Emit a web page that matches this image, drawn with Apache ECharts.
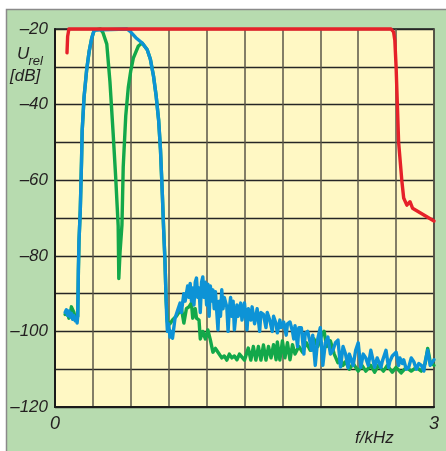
<!DOCTYPE html>
<html><head><meta charset="utf-8">
<script src="https://cdn.jsdelivr.net/npm/echarts@6/dist/echarts.min.js"></script>
<style>html,body{margin:0;padding:0;background:#fff}#c{width:446px;height:451px}</style>
</head><body><div id="c"></div>
<script>
// Frequency axis (kHz) and level axis (dB)
const xMin = 0, xMax = 3, xStep = 0.3;
const yMin = -120, yMax = -20, yStep = 10;
const xTickLabels = {0: '0', 3: '3'};
const yTickLabels = [-20, -40, -60, -80, -100, -120];

// Red curve: [f kHz, dB]
const redData = [[0.095,-26.3],[0.1,-22],[0.11,-20],[2.66,-20],[2.68,-20.8],[2.69,-23],[2.70,-30],[2.72,-50],[2.745,-60],[2.76,-64.7],[2.785,-66.6],[2.80,-66.8],[2.81,-65.7],[2.83,-67.4],[2.90,-68.8],[3.0,-70.8]];

// Blue curve
const blueData = [[0.08,-95],[0.09,-94.3],[0.10,-95.8],[0.11,-94.6],[0.12,-96.2],[0.13,-95.2],[0.14,-96.8],[0.15,-95.8],[0.16,-97.2],[0.17,-96.5],[0.175,-97.8],[0.18,-96],[0.185,-84],[0.19,-76],[0.20,-68],[0.21,-55],[0.215,-47],[0.23,-38],[0.25,-31],[0.27,-26],[0.29,-22.5],[0.31,-20.3],[0.32,-20],
[0.57,-20],[0.60,-20.8],[0.64,-22.3],[0.69,-23.7],[0.73,-25.5],[0.755,-28],[0.78,-32.5],[0.80,-37.5],[0.82,-44],[0.835,-52],[0.85,-64],[0.86,-73],[0.87,-81],[0.88,-92],[0.885,-97],[0.89,-100],[0.90,-98],[0.91,-101.5],[0.92,-100],[0.93,-101.8],[0.95,-96.5],[0.97,-94.5],[0.99,-92.5],[1.00,-95],[1.02,-90],[1.03,-92],[1.05,-88],[1.06,-91],[1.07,-87.3],[1.08,-92],[1.09,-88.5],[1.10,-93],[1.11,-87],[1.12,-85.9],[1.13,-91],[1.14,-88.5],[1.15,-95],[1.16,-87],[1.17,-85.6],[1.18,-91],[1.19,-87],[1.20,-93],[1.21,-87.5],[1.22,-96],[1.23,-88],[1.24,-92],[1.25,-89],[1.26,-94],[1.27,-89.5],[1.29,-99.6],[1.30,-92],[1.31,-96],[1.32,-89],[1.33,-94],[1.34,-91],[1.36,-93.5],[1.37,-100],[1.38,-94],[1.39,-91],[1.40,-96],[1.41,-92],[1.42,-99.6],[1.44,-93],[1.45,-96],[1.47,-92.5],[1.48,-97],[1.50,-92.5],[1.52,-99.6],[1.53,-94],[1.55,-97],[1.56,-93.5],[1.58,-98],[1.60,-94],[1.62,-100],[1.63,-95],[1.65,-95.5],[1.67,-99],[1.68,-95],[1.70,-97],[1.72,-100],[1.73,-96],[1.75,-98],[1.76,-100.4],[1.78,-97],[1.79,-99],[1.81,-97.5],[1.83,-101],[1.84,-98],[1.86,-97.5],[1.88,-100],[1.89,-102],[1.90,-98.5],[1.92,-104],[1.93,-99],[1.95,-99],[1.97,-106],[1.98,-100.5],[2.00,-100],[2.02,-103],[2.03,-105],[2.04,-101],[2.06,-109],[2.08,-102],[2.10,-99],[2.11,-104],[2.12,-109],[2.14,-103],[2.16,-101.5],[2.18,-106],[2.20,-105],[2.22,-103],[2.24,-102.3],[2.26,-109.4],[2.28,-104],[2.30,-106],[2.32,-109.6],[2.33,-106],[2.35,-108],[2.36,-109],[2.38,-105],[2.40,-103],[2.42,-109.5],[2.44,-106],[2.46,-107],[2.48,-109],[2.50,-105],[2.52,-108],[2.53,-109.5],[2.55,-107],[2.56,-106.5],[2.58,-109.5],[2.59,-108],[2.61,-106],[2.62,-105],[2.64,-109.5],[2.65,-108],[2.67,-106.5],[2.70,-105.5],[2.72,-109],[2.73,-107],[2.75,-108.5],[2.76,-107.5],[2.78,-110],[2.80,-109.5],[2.82,-107],[2.84,-108],[2.86,-110],[2.88,-108.5],[2.90,-109],[2.92,-110.5],[2.93,-108],[2.95,-105],[2.96,-107],[2.97,-109],[2.99,-108],[3.0,-107.5]];

// Green curve
const greenData = [[0.08,-95.5],[0.09,-96],[0.10,-95],[0.11,-96.5],[0.12,-95.5],[0.13,-93.5],[0.14,-93],[0.15,-95],[0.16,-96.5],[0.17,-97],[0.18,-96],[0.185,-84],[0.19,-76],[0.20,-68],[0.21,-55],[0.215,-47],[0.23,-38],[0.25,-31],[0.27,-26],[0.29,-22.5],[0.31,-20.3],[0.32,-20],[0.36,-20],[0.38,-21],[0.41,-24],[0.435,-34],[0.46,-47.5],[0.48,-59],[0.50,-72],[0.503,-80],[0.505,-86],[0.51,-86],[0.515,-79],[0.53,-71.8],[0.54,-56.5],[0.56,-43],[0.58,-35.5],[0.60,-31],[0.62,-27.7],[0.66,-24.5],[0.69,-23.7],[0.73,-25.5],[0.755,-28],[0.78,-32.5],[0.80,-37.5],[0.82,-44],[0.835,-52],[0.85,-64],[0.86,-73],[0.87,-81],[0.88,-92],[0.89,-97.5],[0.91,-98],[0.93,-97],[0.96,-96],[0.98,-95],[1.00,-93.8],[1.02,-97.8],[1.04,-94],[1.06,-93.5],[1.08,-92.5],[1.09,-96.5],[1.11,-94],[1.12,-96.5],[1.14,-97],[1.15,-102],[1.17,-100],[1.19,-102],[1.21,-99.6],[1.23,-102.3],[1.25,-105.5],[1.27,-104.5],[1.29,-105.5],[1.32,-107],[1.34,-106.5],[1.36,-107.6],[1.38,-106],[1.40,-107],[1.42,-106.5],[1.44,-107.5],[1.46,-106],[1.48,-106.8],[1.50,-107.6],[1.53,-104.4],[1.55,-107.6],[1.57,-104],[1.59,-107.6],[1.61,-104],[1.63,-107.6],[1.65,-103.6],[1.67,-107.6],[1.69,-104],[1.71,-107],[1.73,-103.5],[1.75,-107.5],[1.76,-102.8],[1.78,-107.6],[1.80,-102.5],[1.82,-107],[1.84,-103],[1.86,-107.5],[1.88,-103.5],[1.90,-106],[1.93,-104],[1.96,-105.5],[1.99,-103],[2.02,-105],[2.05,-102],[2.08,-104],[2.11,-101],[2.13,-100],[2.15,-104],[2.18,-102.5],[2.21,-106],[2.24,-108.3],[2.26,-107],[2.28,-109],[2.30,-108],[2.33,-110],[2.36,-108.5],[2.40,-110.5],[2.43,-109],[2.46,-110.5],[2.50,-109],[2.53,-110.8],[2.56,-109],[2.60,-110.5],[2.63,-109],[2.67,-110.8],[2.70,-109.5],[2.74,-111],[2.78,-109.5],[2.82,-110.5],[2.86,-109.5],[2.90,-110.5],[2.93,-108.5],[2.95,-104.5],[2.97,-108],[3.0,-109]];

const FONT = "'Liberation Sans', Arial, sans-serif";
const txt = '#231f20';
const chart = echarts.init(document.getElementById('c'), null, {renderer: 'canvas'});
const lineSeries = (data, color, z) => ({
  type: 'line', data, showSymbol: false, symbol: 'none', clip: false, z,
  lineStyle: {color, width: 3.4, join: 'round', cap: 'round'}, animation: false
});
chart.setOption({
  backgroundColor: '#ffffff',
  animation: false,
  graphic: [
    {type: 'rect', z: -10, silent: true, shape: {x: 6.5, y: 9.5, width: 460, height: 460},
     style: {fill: '#b7dbaf', stroke: '#8a8a8a', lineWidth: 1.5}},
    {type: 'text', x: 17, y: 46, style: {text: 'U', font: 'italic 17px ' + FONT, fill: txt}},
    {type: 'text', x: 28.5, y: 55, style: {text: 'rel', font: 'italic 13px ' + FONT, fill: txt}},
    {type: 'text', x: 10, y: 68, style: {text: '[dB]', font: 'italic 17px ' + FONT, fill: txt}},
    {type: 'text', x: 355, y: 430, style: {text: 'f/kHz', font: 'italic 17px ' + FONT, fill: txt}}
  ],
  grid: {left: 55, top: 29, width: 379, height: 378, show: true,
         backgroundColor: '#fff8c4', borderColor: '#222', borderWidth: 1.5},
  xAxis: {
    type: 'value', min: xMin, max: xMax, interval: xStep,
    axisLine: {show: true, onZero: false, lineStyle: {color: '#1a1a1a', width: 2}},
    axisTick: {show: false},
    splitLine: {show: true, lineStyle: {color: '#5a5648', width: 1.5}},
    axisLabel: {margin: 8, color: txt, fontFamily: FONT, fontStyle: 'italic', fontSize: 18,
      formatter: v => { const r = Math.round(v * 1000) / 1000; return xTickLabels[r] !== undefined ? xTickLabels[r] : ''; }}
  },
  yAxis: {
    type: 'value', min: yMin, max: yMax, interval: yStep,
    axisLine: {show: true, onZero: false, lineStyle: {color: '#1a1a1a', width: 2}},
    axisTick: {show: false},
    splitLine: {show: true, lineStyle: {color: '#262626', width: 1.4}},
    axisLabel: {margin: 7, color: txt, fontFamily: FONT, fontStyle: 'italic', fontSize: 17,
      formatter: v => yTickLabels.indexOf(Math.round(v)) >= 0 ? '\u2013' + Math.abs(Math.round(v)) : ''}
  },
  series: [
    lineSeries(greenData, '#13a84a', 3),
    lineSeries(blueData, '#0d93d6', 4),
    lineSeries(redData, '#e62129', 5)
  ]
});
</script></body></html>
